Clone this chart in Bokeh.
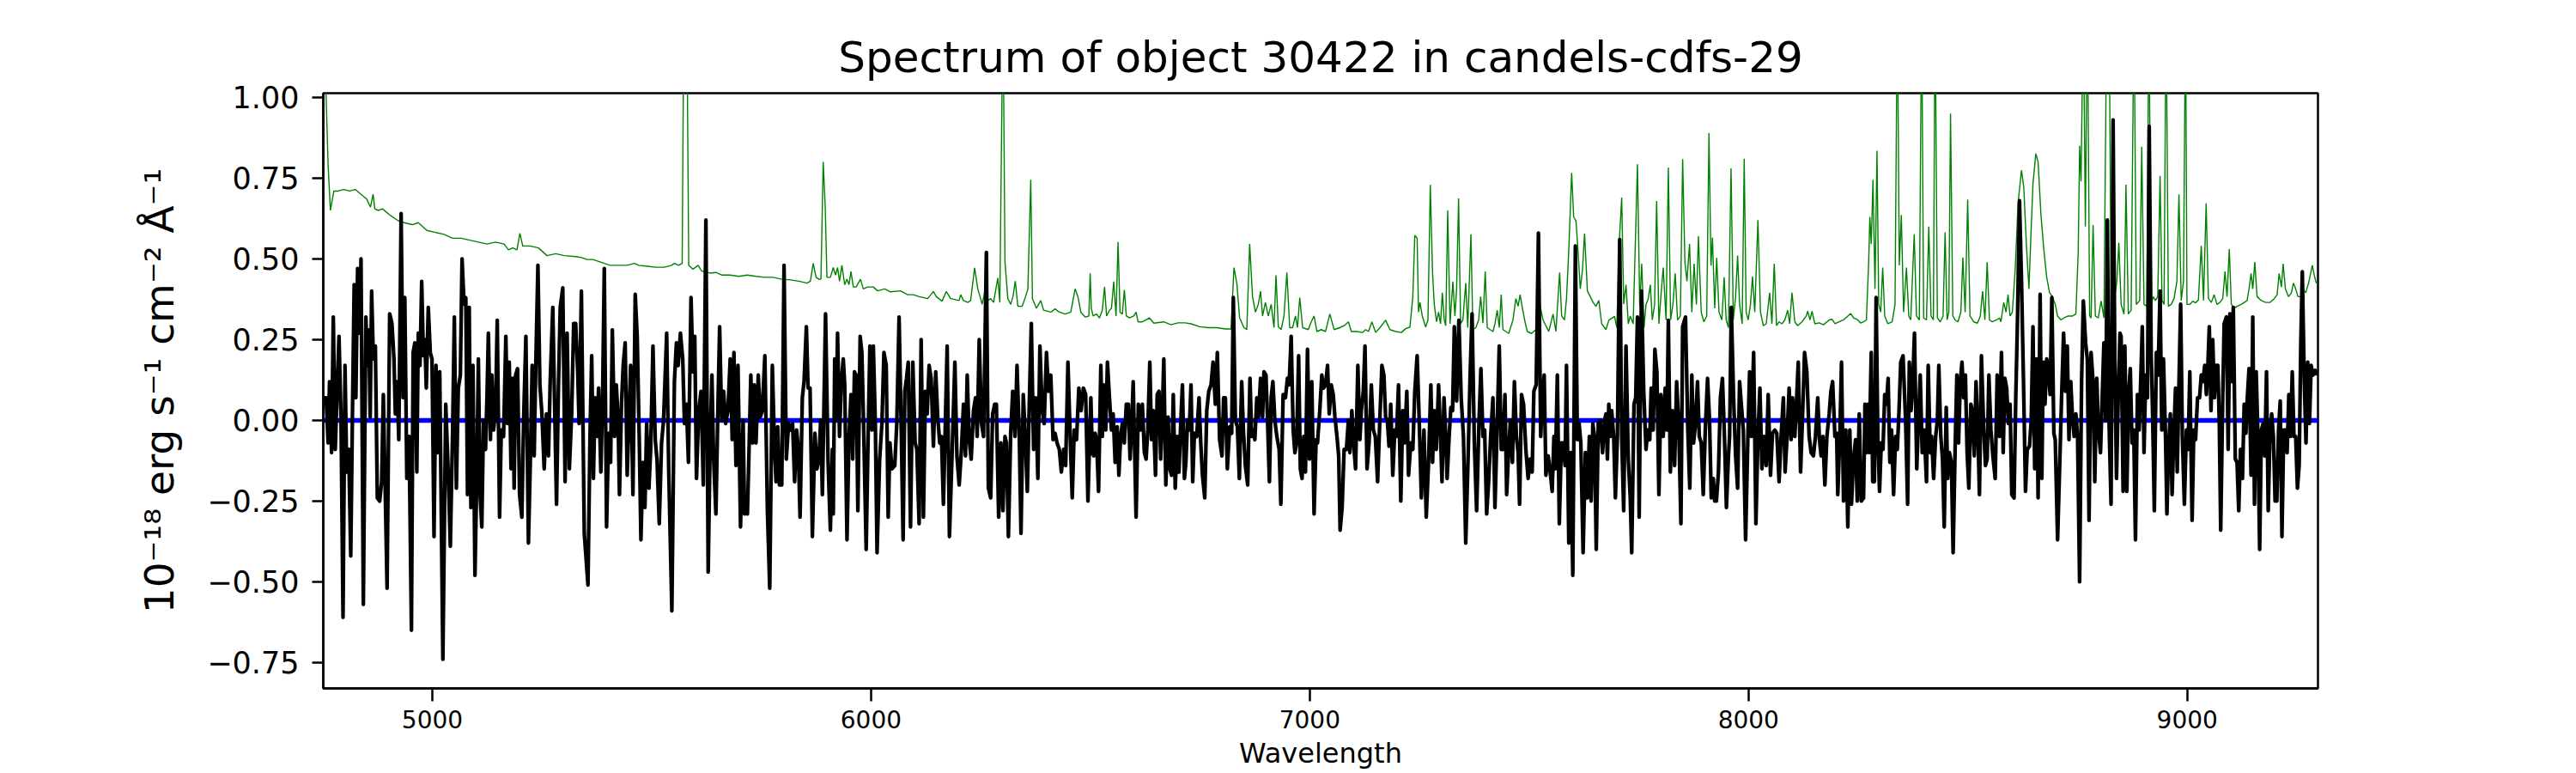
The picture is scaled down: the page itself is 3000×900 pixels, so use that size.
from bokeh.plotting import figure
from bokeh.models import Range1d, FixedTicker, CustomJSTickFormatter, ColumnDataSource
from bokeh.embed import file_html
from bokeh.resources import INLINE

TITLE = "Spectrum of object 30422 in candels-cdfs-29"
X_LABEL = "Wavelength"
Y_LABEL = "10\u207b\u00b9\u2078 erg s\u207b\u00b9 cm\u207b\u00b2 \u00c5\u207b\u00b9"
X_TICKS = [5000, 6000, 7000, 8000, 9000]
Y_TICKS = [-0.75, -0.5, -0.25, 0.0, 0.25, 0.5, 0.75, 1.0]

flux_a = [(4752.7, 0.07), (4758.0, 0.07), (4762.5, -0.07), (4765.8, 0.12), (4770.4, -0.10), (4774.3, 0.32),
          (4778.8, -0.09), (4782.8, 0.08), (4787.3, 0.26), (4791.9, 0.01), (4796.5, -0.61), (4801.0, 0.17),
          (4804.9, -0.16), (4809.5, -0.09), (4814.1, -0.42), (4818.0, 0.02), (4821.9, 0.42), (4825.8, 0.07),
          (4829.7, 0.47), (4834.3, 0.27), (4837.5, 0.50), (4842.8, -0.57), (4848.6, 0.32), (4851.9, 0.17),
          (4855.2, 0.28), (4858.4, 0.01), (4861.7, 0.40), (4865.6, 0.19), (4870.2, 0.23), (4874.7, -0.24),
          (4880.0, -0.25), (4884.5, -0.19), (4888.4, 0.08), (4892.3, -0.19), (4896.9, -0.52), (4902.8, 0.33),
          (4908.0, 0.30), (4912.6, 0.19), (4915.8, 0.02), (4919.7, 0.12), (4923.6, -0.06), (4928.9, 0.64),
          (4933.4, 0.07), (4937.3, 0.38), (4941.9, -0.18), (4947.1, -0.05), (4952.4, -0.65), (4956.3, 0.21),
          (4960.2, 0.24), (4964.7, -0.16), (4968.0, 0.27), (4971.9, 0.17), (4975.8, 0.43), (4979.7, 0.20),
          (4983.0, 0.25), (4986.3, 0.10), (4990.8, 0.35), (4995.4, 0.21), (4999.3, 0.19), (5003.9, -0.36),
          (5008.4, 0.17), (5012.4, -0.10), (5016.9, 0.15), (5024.1, -0.74), (5030.6, 0.05), (5036.5, -0.17),
          (5041.1, -0.39), (5046.3, -0.03), (5050.2, 0.32), (5054.8, -0.21), (5059.3, 0.10), (5063.9, 0.14),
          (5067.8, 0.50), (5072.4, 0.36), (5076.3, 0.38), (5080.2, -0.23), (5084.1, 0.35), (5088.0, -0.27),
          (5092.6, 0.17), (5097.2, -0.48), (5101.7, -0.15), (5105.0, 0.19), (5108.9, -0.23), (5112.8, -0.33),
          (5116.7, 0.00), (5121.3, -0.09), (5124.6, 0.07), (5127.8, 0.27), (5132.4, -0.06), (5135.7, 0.14),
          (5139.6, -0.03), (5144.1, 0.03), (5148.0, 0.31), (5153.3, -0.30), (5157.2, -0.03), (5162.4, -0.05),
          (5167.6, 0.26), (5171.5, -0.01), (5175.4, 0.18), (5179.4, -0.15), (5183.3, 0.13), (5186.5, -0.21),
          (5189.8, 0.14), (5194.3, 0.16), (5198.9, -0.23), (5204.1, -0.30), (5208.1, 0.00), (5213.3, 0.26),
          (5219.1, -0.38), (5223.7, -0.11), (5227.6, 0.17), (5232.2, -0.11), (5235.4, 0.14), (5240.7, 0.48),
          (5245.2, 0.11), (5249.8, 0.02), (5255.0, -0.15), (5260.2, 0.02), (5264.8, -0.11), (5268.7, 0.12),
          (5274.6, 0.35), (5278.5, 0.07), (5283.1, -0.26), (5287.6, 0.11), (5291.6, 0.35), (5297.4, 0.41),
          (5302.6, -0.19), (5307.2, 0.27), (5312.4, -0.15), (5317.6, 0.02), (5322.2, 0.30)]

flux_b = [(5326.8, 0.30), (5331.4, 0.15), (5334.6, -0.01), (5339.8, 0.40), (5346.4, -0.35), (5354.8, -0.51),
          (5359.4, -0.05), (5363.3, 0.20), (5367.2, -0.18), (5371.2, 0.07), (5375.1, -0.05), (5379.0, 0.10),
          (5384.2, -0.16), (5388.1, 0.07), (5392.0, 0.47), (5397.2, -0.33), (5401.8, -0.04), (5406.4, -0.13),
          (5410.3, 0.28), (5415.5, -0.05), (5419.4, 0.11), (5423.3, 0.01), (5426.6, -0.23), (5431.2, 0.05),
          (5435.1, 0.17), (5439.6, 0.24), (5444.2, -0.17), (5448.1, 0.00), (5452.0, 0.17), (5457.3, -0.23),
          (5462.5, 0.39), (5467.0, 0.26), (5471.6, -0.05), (5475.5, -0.37), (5480.1, -0.13), (5484.7, -0.27),
          (5488.6, -0.01), (5493.8, -0.21), (5497.7, -0.09), (5502.9, 0.23), (5508.1, -0.06), (5512.1, -0.12),
          (5517.3, -0.32), (5522.5, -0.07), (5527.1, 0.00), (5534.2, 0.27), (5538.8, -0.15), (5546.0, -0.59),
          (5551.8, 0.12), (5556.4, 0.24), (5560.3, 0.17), (5565.5, 0.27), (5570.8, 0.19), (5574.7, -0.01),
          (5579.2, 0.05), (5583.8, -0.13), (5589.7, 0.38), (5594.2, 0.15), (5598.2, 0.26), (5602.1, -0.18),
          (5607.3, 0.03), (5612.5, 0.09), (5617.7, -0.20), (5623.6, 0.62), (5628.8, -0.47), (5633.4, -0.06),
          (5637.3, 0.14), (5641.2, -0.12), (5646.4, -0.29), (5651.0, 0.04), (5654.9, 0.29), (5659.5, 0.00),
          (5664.0, 0.09), (5668.6, -0.01), (5673.8, 0.03), (5679.0, 0.19), (5683.6, -0.06), (5687.5, 0.21),
          (5692.1, -0.14), (5696.7, 0.17), (5702.5, -0.33), (5708.4, 0.00), (5711.7, -0.29), (5715.6, -0.23),
          (5718.2, -0.29), (5721.4, -0.12), (5726.0, 0.14), (5729.9, -0.07), (5733.8, 0.11), (5737.8, -0.07),
          (5743.0, 0.14), (5747.5, 0.01), (5752.1, 0.03), (5758.0, 0.20), (5763.8, -0.28), (5769.1, -0.52),
          (5775.0, 0.17), (5780.1, -0.09), (5783.4, -0.19), (5787.3, -0.02), (5791.2, -0.20), (5796.5, -0.20),
          (5801.7, 0.48), (5806.9, -0.12), (5812.1, -0.01), (5816.0, -0.03), (5821.2, -0.01), (5825.8, -0.19),
          (5830.4, -0.03), (5834.3, -0.09), (5838.2, -0.30), (5843.4, 0.07), (5847.3, 0.12), (5852.6, 0.29),
          (5856.5, 0.10), (5861.0, 0.10), (5866.3, -0.36), (5872.1, -0.04), (5876.7, -0.15), (5881.3, -0.12),
          (5885.2, 0.00), (5889.1, -0.23), (5896.3, 0.33), (5902.1, -0.13), (5907.3, -0.34), (5911.9, -0.09)]

flux_c = [(5913.9, -0.29), (5917.2, 0.19), (5920.4, 0.00), (5923.7, 0.27), (5928.2, -0.05), (5932.2, 0.12),
          (5936.7, 0.19), (5940.0, 0.11), (5945.2, -0.37), (5949.8, -0.05), (5954.3, 0.08), (5958.3, -0.12),
          (5962.2, 0.15), (5966.1, 0.14), (5970.0, -0.28), (5975.2, 0.26), (5979.1, 0.21), (5983.0, -0.01),
          (5988.9, -0.40), (5993.5, -0.04), (5997.4, 0.23), (6001.9, -0.03), (6005.2, 0.23), (6009.8, -0.01),
          (6013.7, -0.41), (6019.6, -0.12), (6024.8, -0.01), (6029.4, 0.21), (6034.6, 0.17), (6039.1, -0.30),
          (6043.1, -0.07), (6047.6, -0.15), (6054.1, -0.14), (6058.7, -0.01), (6063.9, 0.32), (6068.5, 0.00),
          (6073.1, -0.37), (6077.0, 0.09), (6080.9, 0.13), (6084.8, 0.18), (6090.0, -0.33), (6095.2, 0.18),
          (6100.5, -0.07), (6104.4, -0.09), (6109.6, -0.32), (6114.2, 0.25), (6119.4, -0.30), (6123.9, 0.09),
          (6127.9, 0.02), (6132.4, 0.17), (6137.0, 0.13), (6142.2, -0.08), (6147.4, 0.15), (6152.0, 0.01),
          (6156.6, -0.07), (6160.5, -0.05), (6165.0, -0.26), (6173.5, 0.23), (6178.7, -0.36), (6184.6, -0.11),
          (6191.1, 0.18), (6195.7, -0.11), (6200.9, -0.20), (6206.1, -0.09), (6210.7, 0.05), (6215.3, -0.11),
          (6219.2, 0.14), (6223.7, -0.06), (6228.3, -0.12), (6233.5, 0.03), (6238.1, 0.07), (6242.0, -0.05),
          (6246.6, 0.25), (6251.8, -0.01), (6256.4, -0.05), (6262.9, 0.52), (6267.4, -0.21), (6272.7, -0.24),
          (6277.2, 0.02), (6281.8, 0.05), (6285.7, 0.05), (6290.9, -0.30), (6296.1, -0.07), (6300.7, -0.28),
          (6305.3, -0.05), (6308.5, -0.07), (6313.1, -0.36), (6318.3, -0.04), (6322.9, 0.09), (6328.1, -0.05),
          (6332.7, 0.17), (6337.9, -0.05), (6341.8, -0.35), (6347.0, 0.08), (6350.9, -0.03), (6356.2, -0.22),
          (6360.7, 0.05), (6365.3, 0.30), (6370.5, -0.09), (6375.1, 0.07), (6380.3, -0.18), (6384.9, 0.23),
          (6390.1, 0.03), (6394.6, -0.01), (6399.9, 0.21), (6404.4, 0.09), (6409.7, 0.14), (6414.9, -0.06),
          (6419.4, -0.04), (6424.0, -0.07), (6429.2, -0.09), (6433.8, -0.16), (6439.0, -0.09), (6443.6, -0.14),
          (6448.8, 0.18), (6453.4, -0.03), (6458.6, -0.24), (6463.1, -0.03), (6468.4, -0.06), (6473.6, 0.10),
          (6478.8, 0.03), (6484.0, 0.10), (6489.2, 0.08), (6494.4, -0.25), (6499.7, 0.01)]

flux_d = [(6501.0, 0.07), (6504.3, -0.10), (6507.5, -0.11), (6510.8, -0.04), (6514.0, -0.06), (6518.6, -0.22),
          (6523.8, 0.17), (6527.1, -0.05), (6530.4, 0.11), (6534.9, -0.03), (6538.8, 0.18), (6543.4, 0.07),
          (6548.0, -0.03), (6551.9, 0.02), (6556.4, -0.13), (6561.0, -0.02), (6564.9, -0.17), (6568.8, -0.05),
          (6572.8, -0.01), (6577.3, -0.07), (6581.9, 0.05), (6586.5, 0.05), (6590.4, -0.12), (6594.3, -0.01),
          (6597.5, 0.12), (6604.1, -0.30), (6609.3, 0.05), (6613.2, -0.03), (6618.4, 0.05), (6623.0, -0.10),
          (6626.9, -0.12), (6630.8, -0.03), (6635.4, 0.18), (6639.3, -0.06), (6643.2, 0.03), (6648.4, -0.17),
          (6652.3, 0.08), (6656.3, 0.09), (6660.2, -0.12), (6664.1, 0.03), (6667.3, 0.19), (6671.9, -0.20),
          (6677.1, 0.01), (6681.0, -0.15), (6685.0, -0.17), (6688.9, 0.08), (6693.4, -0.21), (6698.0, -0.05),
          (6701.9, -0.16), (6705.8, -0.01), (6709.7, 0.11), (6714.3, -0.18), (6717.6, -0.13), (6721.5, 0.00),
          (6725.4, -0.03), (6729.3, 0.11), (6733.2, -0.19), (6737.1, -0.04), (6742.4, -0.05), (6747.6, 0.07),
          (6751.5, -0.07), (6755.4, -0.17), (6760.6, -0.24), (6765.2, 0.03), (6769.8, 0.09), (6775.0, 0.11),
          (6779.5, 0.18), (6784.8, 0.05), (6789.3, 0.21), (6794.5, -0.06), (6799.8, -0.11), (6803.7, 0.07),
          (6807.6, 0.07), (6812.1, -0.15), (6817.4, -0.02), (6822.0, -0.04), (6825.8, 0.38), (6830.4, 0.00),
          (6835.0, -0.02), (6839.5, -0.18), (6844.8, 0.12), (6848.7, -0.03), (6853.2, -0.14), (6858.5, -0.20),
          (6863.7, 0.13), (6867.6, -0.05), (6871.5, -0.03), (6874.8, -0.06), (6879.3, 0.07), (6883.2, 0.01),
          (6887.8, 0.13), (6892.4, 0.01), (6895.6, 0.15), (6900.2, 0.14), (6903.5, 0.01), (6908.0, -0.19),
          (6912.0, 0.07), (6915.9, 0.12), (6920.4, 0.00), (6925.0, -0.05), (6930.2, -0.09), (6934.1, -0.26),
          (6939.3, 0.08), (6944.6, 0.07), (6949.1, 0.13), (6953.0, 0.11), (6957.6, 0.26), (6962.2, -0.03),
          (6966.1, -0.10), (6970.0, -0.07), (6974.6, 0.20), (6978.5, -0.15), (6982.4, -0.18), (6986.3, -0.05),
          (6990.2, -0.16), (6994.8, 0.22), (6999.4, -0.12), (7004.6, 0.12), (7009.8, -0.29), (7014.4, -0.06),
          (7017.6, -0.07), (7022.8, 0.03), (7027.4, 0.14), (7031.3, 0.10), (7035.9, 0.11), (7040.5, 0.17),
          (7044.4, 0.02), (7048.9, 0.11), (7053.5, 0.08), (7057.4, 0.01), (7062.0, -0.05), (7065.9, -0.11),
          (7069.2, -0.34), (7073.7, -0.27), (7078.3, -0.09), (7083.5, -0.09), (7088.1, 0.00)]

flux_e = [(7091.4, -0.10), (7095.9, 0.03), (7099.8, -0.07), (7104.4, -0.15), (7109.6, 0.17), (7114.2, -0.06),
          (7117.5, 0.03), (7122.0, 0.09), (7125.9, 0.23), (7130.5, -0.15), (7135.1, -0.07), (7140.3, 0.11),
          (7144.9, -0.03), (7149.4, -0.05), (7154.6, -0.19), (7159.9, 0.01), (7164.4, 0.17), (7169.0, 0.14),
          (7172.9, 0.01), (7176.8, 0.00), (7180.7, -0.08), (7184.6, 0.05), (7189.2, -0.17), (7193.8, -0.03),
          (7197.7, -0.05), (7202.3, 0.11), (7207.5, -0.25), (7212.0, 0.03), (7215.9, -0.07), (7221.2, 0.09),
          (7225.1, -0.17), (7230.3, -0.07), (7234.9, -0.09), (7239.4, 0.09), (7244.7, 0.20), (7249.2, 0.01),
          (7254.4, -0.24), (7260.3, -0.03), (7265.5, -0.30), (7270.7, -0.13), (7276.0, 0.11), (7279.9, -0.13),
          (7283.8, 0.03), (7288.4, -0.09), (7293.6, 0.11), (7298.1, -0.05), (7301.4, -0.19), (7306.0, 0.07),
          (7309.9, -0.05), (7313.1, -0.18), (7317.7, -0.05), (7321.6, 0.04), (7325.5, 0.03), (7329.5, 0.29),
          (7334.7, 0.06), (7339.9, 0.31), (7345.1, 0.07), (7350.3, -0.05), (7355.5, -0.38), (7360.8, -0.12),
          (7365.3, 0.13), (7369.9, 0.33), (7375.1, -0.07), (7380.3, -0.28), (7385.6, -0.01), (7390.1, 0.16),
          (7394.7, -0.05), (7398.6, -0.03), (7403.2, -0.29), (7407.7, -0.19), (7412.3, -0.05), (7417.5, 0.07),
          (7422.1, -0.27), (7427.3, -0.01), (7431.9, 0.23), (7436.4, -0.09), (7440.3, -0.09), (7444.9, 0.08),
          (7448.8, -0.23), (7453.4, -0.09), (7457.3, 0.00), (7461.9, -0.13), (7466.4, 0.12), (7471.0, -0.05),
          (7474.9, -0.10), (7478.2, -0.26), (7482.7, 0.08), (7487.3, 0.05), (7492.5, -0.09), (7497.7, -0.18),
          (7502.3, -0.12), (7506.9, -0.16), (7510.8, 0.09), (7516.0, 0.11), (7521.2, 0.58), (7526.4, -0.05),
          (7530.4, 0.07), (7534.3, 0.14), (7538.2, -0.17), (7543.4, -0.11), (7548.0, -0.16), (7552.5, -0.22),
          (7556.5, -0.05), (7559.7, -0.15), (7564.3, 0.14), (7568.8, -0.32), (7573.4, -0.07), (7577.3, -0.07),
          (7581.9, -0.14), (7585.1, 0.17), (7590.4, -0.38), (7594.9, -0.10), (7599.5, -0.48), (7605.4, 0.54),
          (7609.9, -0.06), (7613.9, -0.01), (7617.8, -0.07), (7623.0, -0.41), (7628.2, -0.10), (7632.8, -0.24),
          (7637.3, -0.05), (7641.3, -0.25), (7645.2, -0.01), (7649.1, -0.05), (7653.0, -0.40), (7657.6, -0.01),
          (7662.1, 0.00), (7667.3, -0.10), (7671.9, 0.00)]

flux_f = [(7675.1, 0.02), (7678.4, -0.12), (7681.6, 0.05), (7684.9, -0.05), (7688.1, 0.03), (7692.7, -0.05),
          (7696.6, -0.24), (7701.2, -0.05), (7706.4, 0.56), (7711.0, -0.05), (7715.5, -0.28), (7720.8, 0.23),
          (7726.0, -0.12), (7730.5, -0.24), (7733.8, -0.41), (7739.0, 0.05), (7742.9, 0.07), (7746.9, 0.32),
          (7750.8, -0.30), (7756.0, 0.40), (7761.2, 0.09), (7766.4, -0.09), (7770.3, -0.03), (7774.9, -0.06),
          (7778.2, 0.10), (7782.7, -0.03), (7786.6, 0.22), (7791.2, 0.15), (7795.8, -0.23), (7800.3, 0.08),
          (7805.6, -0.05), (7810.1, 0.10), (7814.0, -0.03), (7817.3, 0.31), (7821.9, -0.16), (7826.4, 0.03),
          (7831.6, -0.14), (7836.2, 0.12), (7840.8, -0.01), (7846.0, -0.32), (7849.9, 0.29), (7856.4, 0.32),
          (7861.7, -0.03), (7866.2, -0.21), (7870.8, 0.14), (7874.7, -0.07), (7878.6, -0.02), (7883.8, 0.12),
          (7887.8, -0.05), (7892.3, -0.07), (7896.9, -0.23), (7901.5, -0.03), (7906.7, 0.13), (7911.2, 0.00),
          (7915.1, -0.24), (7919.7, -0.18), (7923.0, -0.25), (7926.9, -0.25), (7931.5, -0.16), (7936.0, 0.07),
          (7940.6, 0.13), (7945.2, -0.05), (7949.7, -0.27), (7954.3, -0.11), (7956.9, -0.05), (7960.8, 0.35),
          (7966.0, 0.07), (7970.6, -0.11), (7975.2, -0.21), (7979.7, 0.12), (7983.6, 0.05), (7988.2, -0.03),
          (7993.4, -0.37), (7998.6, -0.05), (8002.5, 0.15), (8006.5, -0.05), (8011.7, 0.21), (8016.9, -0.32),
          (8021.5, -0.05), (8026.0, 0.10), (8030.6, -0.15), (8035.2, -0.05), (8040.4, -0.14), (8044.9, 0.08),
          (8050.2, -0.17), (8054.7, -0.04), (8060.0, -0.03), (8064.5, -0.04), (8069.7, -0.19), (8074.3, -0.05),
          (8079.5, 0.07), (8083.4, -0.16), (8088.0, -0.05), (8092.6, 0.10), (8097.1, -0.06), (8100.4, 0.07),
          (8105.6, -0.05), (8109.5, 0.06), (8113.4, 0.18), (8118.7, -0.16), (8122.6, -0.01), (8127.8, 0.21),
          (8133.0, 0.15), (8138.2, -0.05), (8142.8, -0.10), (8148.0, -0.11), (8152.6, -0.05), (8157.8, 0.07),
          (8161.7, -0.06), (8165.6, -0.11), (8169.5, -0.05), (8174.1, -0.20), (8178.7, -0.05), (8183.9, 0.02),
          (8187.8, 0.09), (8191.7, 0.12), (8197.0, -0.05), (8200.9, -0.04), (8203.5, -0.23), (8208.1, -0.05),
          (8212.0, 0.18), (8216.6, -0.25), (8221.8, -0.03), (8226.4, -0.33), (8230.9, -0.03), (8234.8, -0.26),
          (8239.3, -0.12), (8244.0, -0.06), (8247.9, -0.25), (8252.4, 0.02), (8257.0, -0.25)]

flux_g = [(8262.2, -0.24), (8265.5, 0.05), (8268.7, -0.10), (8272.0, 0.05), (8275.2, -0.10), (8279.8, 0.21),
          (8283.1, -0.19), (8287.0, -0.19), (8290.9, 0.38), (8294.8, -0.05), (8298.7, -0.22), (8302.6, -0.07),
          (8306.6, -0.09), (8310.5, 0.08), (8314.4, 0.05), (8318.3, 0.13), (8322.2, -0.13), (8326.1, -0.03),
          (8330.7, -0.23), (8335.3, -0.05), (8339.2, -0.09), (8343.1, 0.03), (8347.0, 0.18), (8352.2, 0.20),
          (8358.1, 0.00), (8362.7, -0.26), (8366.6, 0.18), (8370.5, 0.03), (8374.4, 0.12), (8378.3, 0.27),
          (8383.5, -0.15), (8387.4, 0.00), (8391.4, 0.14), (8395.9, -0.10), (8400.5, -0.03), (8405.7, -0.19),
          (8409.6, 0.17), (8414.2, -0.10), (8417.4, -0.05), (8422.0, -0.18), (8426.6, -0.05), (8430.5, 0.00),
          (8433.8, 0.17), (8438.3, -0.05), (8442.2, -0.12), (8446.1, -0.33), (8450.7, 0.04), (8454.0, -0.18),
          (8457.9, -0.10), (8462.5, -0.13), (8466.4, -0.41), (8470.9, -0.09), (8474.9, 0.14), (8478.8, -0.07),
          (8482.7, 0.12), (8486.6, 0.18), (8490.5, 0.07), (8494.4, 0.14), (8498.3, -0.10), (8502.2, -0.21),
          (8506.8, 0.05), (8510.1, 0.03), (8514.6, -0.11), (8518.6, 0.12), (8523.1, -0.05), (8526.4, -0.23),
          (8530.9, 0.20), (8536.2, -0.03), (8540.1, -0.14), (8544.0, -0.12), (8547.9, 0.14), (8552.5, -0.03),
          (8557.0, -0.11), (8562.3, -0.18), (8566.8, 0.14), (8572.0, -0.05), (8576.6, 0.21), (8580.5, -0.10),
          (8584.4, 0.13), (8588.4, 0.10), (8592.3, -0.01), (8596.2, 0.05), (8600.1, -0.23), (8605.3, -0.24),
          (8609.2, 0.07), (8613.1, 0.31), (8617.7, 0.68), (8622.3, 0.43), (8626.8, 0.12), (8631.4, -0.22),
          (8635.3, -0.09), (8640.5, -0.08), (8644.4, 0.00), (8648.4, 0.29), (8652.3, -0.15), (8656.8, 0.19),
          (8660.1, -0.24), (8664.7, 0.39), (8668.6, -0.18), (8671.8, 0.18), (8675.8, 0.05), (8679.7, 0.19),
          (8683.6, 0.15), (8687.5, 0.08), (8691.4, 0.38), (8696.0, -0.04), (8699.2, -0.06), (8704.5, -0.37),
          (8709.7, -0.12), (8713.6, 0.07), (8718.2, 0.27), (8722.7, 0.09), (8726.6, 0.23), (8730.5, -0.06),
          (8734.5, 0.12), (8738.4, 0.01), (8742.3, -0.05), (8746.2, 0.02), (8750.1, -0.05), (8754.7, -0.50),
          (8759.2, 0.12), (8763.2, 0.37), (8768.4, 0.24), (8772.3, 0.19), (8776.2, -0.31), (8780.8, 0.21),
          (8785.4, 0.12), (8789.3, -0.19), (8793.8, 0.13), (8797.7, -0.03), (8802.3, -0.10), (8806.2, 0.07),
          (8810.1, 0.24), (8814.1, 0.00), (8818.0, 0.62), (8821.9, -0.01), (8826.4, -0.26), (8831.0, 0.93),
          (8834.9, 0.19), (8838.8, -0.18), (8842.7, 0.07), (8846.7, 0.27)]

flux_h = [(8849.3, 0.26), (8853.9, -0.22), (8857.8, 0.23), (8862.4, -0.22), (8866.3, 0.08), (8870.2, 0.16),
          (8874.1, -0.07), (8878.1, -0.03), (8882.0, -0.37), (8886.5, 0.08), (8890.4, -0.03), (8893.7, 0.11),
          (8897.6, 0.29), (8901.5, -0.10), (8905.4, 0.14), (8909.4, 0.07), (8913.3, 0.91), (8917.8, 0.21),
          (8921.1, 0.02), (8925.0, -0.28), (8929.6, 0.21), (8933.5, 0.14), (8938.1, 0.40), (8942.0, -0.03),
          (8945.9, 0.19), (8950.5, -0.05), (8953.7, -0.29), (8957.6, -0.08), (8961.5, 0.02), (8965.5, -0.23),
          (8969.4, -0.05), (8973.3, 0.10), (8977.2, -0.16), (8981.1, 0.11), (8985.0, 0.36), (8988.9, -0.05),
          (8993.5, -0.26), (8998.1, -0.03), (9002.0, -0.09), (9005.9, 0.15), (9011.1, -0.31), (9015.0, -0.03),
          (9019.0, -0.06), (9023.5, 0.07), (9028.1, 0.07), (9032.0, 0.14), (9035.9, 0.12), (9039.8, 0.17),
          (9043.7, 0.08), (9047.0, 0.17), (9050.3, 0.29), (9054.2, 0.03), (9058.1, 0.25), (9062.0, 0.07),
          (9065.9, 0.17), (9069.8, 0.17), (9073.1, -0.01), (9076.3, -0.34), (9080.9, 0.07), (9084.2, 0.30),
          (9089.4, 0.32), (9093.3, -0.09), (9097.2, 0.33), (9101.1, 0.12), (9105.0, 0.35), (9109.6, -0.12),
          (9113.5, -0.13), (9117.4, -0.28), (9121.4, -0.09), (9125.9, -0.18), (9129.8, 0.05), (9133.7, -0.04),
          (9137.0, 0.07), (9140.9, 0.16), (9145.5, -0.17), (9149.4, 0.32), (9153.3, -0.26), (9157.2, 0.15),
          (9161.2, -0.05), (9165.1, -0.40), (9169.0, -0.03), (9172.9, -0.01), (9176.8, -0.11), (9180.7, 0.15),
          (9184.6, -0.28), (9188.5, -0.05), (9192.5, 0.02), (9196.4, -0.05), (9200.3, -0.25), (9204.2, -0.25),
          (9208.1, -0.03), (9212.0, 0.06), (9215.9, -0.36), (9219.9, -0.03), (9223.8, -0.03), (9227.7, -0.10),
          (9231.6, 0.08), (9235.5, -0.05), (9239.4, 0.15), (9243.3, -0.05), (9247.2, -0.05), (9251.2, -0.21),
          (9255.1, -0.14), (9259.0, 0.25), (9262.3, 0.46), (9266.8, 0.12), (9270.7, -0.07), (9274.7, 0.18),
          (9278.6, -0.01), (9282.5, 0.17), (9286.4, 0.14), (9291.6, 0.155), (9296.2, 0.14)]

# noise / sky spectrum (green), values above the frame are sky-line spikes
noise_a = [(4751.4, 1.30), (4758.0, 1.00), (4762.5, 0.79), (4767.7, 0.65), (4775.6, 0.71), (4785.4, 0.71),
           (4798.4, 0.715), (4811.5, 0.71), (4824.5, 0.715), (4837.5, 0.70), (4850.6, 0.685), (4859.1, 0.66),
           (4865.0, 0.70), (4868.9, 0.655), (4876.7, 0.65), (4886.5, 0.655), (4902.8, 0.636), (4922.3, 0.618),
           (4935.4, 0.612), (4954.9, 0.606), (4968.0, 0.612), (4987.6, 0.588), (5007.1, 0.582), (5026.7, 0.576),
           (5046.3, 0.564), (5065.9, 0.564), (5085.4, 0.558), (5105.0, 0.552), (5124.6, 0.546), (5144.1, 0.552),
           (5163.7, 0.546), (5173.5, 0.528), (5183.3, 0.534), (5193.0, 0.528), (5199.6, 0.579), (5206.1, 0.54),
           (5222.4, 0.54), (5242.0, 0.534), (5261.5, 0.51), (5281.1, 0.516), (5300.7, 0.51)]

noise_b = [(5326.8, 0.507), (5339.8, 0.504), (5352.9, 0.498), (5365.9, 0.498), (5379.0, 0.492), (5392.0, 0.486),
           (5405.1, 0.48), (5424.6, 0.48), (5444.2, 0.48), (5460.5, 0.486), (5470.3, 0.48), (5489.9, 0.477),
           (5509.4, 0.474), (5529.0, 0.474), (5545.3, 0.48), (5551.8, 0.486), (5561.6, 0.48), (5569.5, 0.486),
           (5573.4, 1.30), (5579.9, 1.30), (5584.5, 0.48), (5594.2, 0.468), (5606.0, 0.48), (5613.8, 0.462),
           (5633.4, 0.456), (5646.4, 0.458), (5659.5, 0.45), (5679.0, 0.45), (5698.6, 0.446), (5718.2, 0.45),
           (5737.8, 0.446), (5757.3, 0.443), (5776.9, 0.443), (5796.5, 0.437), (5816.0, 0.435), (5835.6, 0.431),
           (5853.9, 0.425), (5861.7, 0.431), (5868.2, 0.486), (5874.7, 0.443), (5881.3, 0.437), (5885.8, 0.437),
           (5891.0, 0.80), (5895.6, 0.66), (5899.5, 0.443), (5907.3, 0.443)]

noise_c = [(5913.9, 0.473), (5919.1, 0.45), (5923.7, 0.473), (5928.2, 0.431), (5933.5, 0.48), (5940.0, 0.42),
           (5945.2, 0.437), (5949.8, 0.42), (5954.3, 0.461), (5959.6, 0.413), (5966.1, 0.413), (5975.9, 0.437),
           (5982.4, 0.407), (5992.2, 0.413), (6005.2, 0.413), (6015.0, 0.401), (6031.3, 0.407), (6044.4, 0.398),
           (6067.2, 0.401), (6083.5, 0.389), (6096.5, 0.389), (6109.6, 0.383), (6129.2, 0.377), (6142.2, 0.399),
           (6148.7, 0.383), (6161.8, 0.369), (6171.6, 0.399), (6181.3, 0.377), (6200.9, 0.371), (6204.2, 0.389),
           (6210.7, 0.371), (6220.5, 0.365), (6227.0, 0.371), (6236.1, 0.472), (6243.3, 0.407), (6249.8, 0.377),
           (6253.1, 0.359), (6259.6, 0.40), (6266.1, 0.371), (6272.7, 0.377), (6279.2, 0.365), (6289.0, 0.441),
           (6293.5, 0.365), (6300.7, 1.30), (6305.3, 0.49), (6311.8, 0.377), (6318.3, 0.359), (6323.5, 0.383),
           (6328.8, 0.431), (6334.6, 0.353), (6344.4, 0.353), (6352.2, 0.383), (6357.5, 0.407), (6364.0, 0.745),
           (6367.9, 0.377), (6377.0, 0.347), (6386.8, 0.371), (6393.3, 0.341), (6409.7, 0.335), (6419.4, 0.345),
           (6429.2, 0.335), (6442.3, 0.329), (6455.3, 0.335), (6465.1, 0.407), (6471.6, 0.383), (6478.2, 0.335),
           (6487.9, 0.32), (6496.4, 0.323), (6499.5, 0.455)]

noise_d = [(6502.0, 0.347), (6506.2, 0.323), (6514.0, 0.329), (6520.6, 0.317), (6527.1, 0.341), (6532.3, 0.413),
           (6536.9, 0.323), (6543.4, 0.341), (6548.0, 0.347), (6553.2, 0.43), (6558.4, 0.323), (6563.0, 0.552),
           (6567.5, 0.335), (6572.8, 0.329), (6577.3, 0.404), (6581.9, 0.323), (6589.1, 0.317), (6598.8, 0.323),
           (6604.1, 0.335), (6608.6, 0.305), (6618.4, 0.305), (6634.7, 0.317), (6644.5, 0.301), (6667.3, 0.305),
           (6683.6, 0.296), (6700.0, 0.302), (6716.3, 0.302), (6729.3, 0.299), (6748.9, 0.29), (6768.4, 0.287),
           (6788.0, 0.287), (6807.6, 0.283), (6820.6, 0.283), (6827.2, 0.473), (6833.7, 0.425), (6840.2, 0.317),
           (6850.0, 0.287), (6856.5, 0.281), (6863.0, 0.546), (6869.5, 0.383), (6876.1, 0.335), (6882.6, 0.359),
           (6887.8, 0.40), (6892.4, 0.323), (6898.9, 0.365), (6905.4, 0.323), (6912.0, 0.359), (6918.5, 0.287),
           (6923.0, 0.449), (6928.3, 0.29), (6934.8, 0.281), (6941.3, 0.323), (6947.8, 0.458), (6954.3, 0.287),
           (6960.9, 0.287), (6967.4, 0.323), (6972.0, 0.287), (6977.2, 0.38), (6983.7, 0.287), (6996.7, 0.281),
           (7003.3, 0.305), (7009.8, 0.323), (7016.3, 0.275), (7026.1, 0.281), (7035.9, 0.275), (7045.7, 0.329),
           (7055.5, 0.281), (7068.5, 0.287), (7078.3, 0.293), (7088.1, 0.305)]

noise_e = [(7094.6, 0.275), (7107.7, 0.275), (7120.7, 0.272), (7127.2, 0.281), (7133.8, 0.275), (7141.6, 0.305),
           (7150.1, 0.272), (7159.9, 0.287), (7172.9, 0.31), (7182.7, 0.281), (7195.7, 0.275), (7208.8, 0.272),
           (7218.6, 0.284), (7228.3, 0.289), (7234.9, 0.383), (7239.4, 0.573), (7244.7, 0.564), (7247.9, 0.335),
           (7251.2, 0.365), (7256.4, 0.323), (7264.2, 0.289), (7269.4, 0.311), (7274.7, 0.729), (7279.9, 0.455),
           (7283.8, 0.359), (7289.0, 0.305), (7293.6, 0.335), (7298.1, 0.299), (7302.1, 0.395), (7306.6, 0.311),
           (7309.9, 0.293), (7314.4, 0.65), (7319.7, 0.299), (7326.2, 0.43), (7330.8, 0.323), (7334.7, 0.407),
           (7339.2, 0.687), (7343.8, 0.299), (7349.0, 0.311), (7355.5, 0.425), (7360.1, 0.287), (7367.3, 0.576),
           (7371.8, 0.281), (7378.4, 0.287), (7384.9, 0.311), (7389.5, 0.383), (7394.7, 0.301), (7399.9, 0.461),
           (7404.5, 0.287), (7411.0, 0.281), (7417.5, 0.275), (7422.1, 0.299), (7427.3, 0.341), (7431.9, 0.287),
           (7436.4, 0.389), (7440.3, 0.281), (7453.4, 0.269), (7463.2, 0.311), (7469.7, 0.377), (7474.9, 0.353),
           (7479.5, 0.389), (7484.7, 0.347), (7490.6, 0.305), (7495.8, 0.275), (7505.6, 0.269), (7515.4, 0.281),
           (7525.1, 0.353), (7531.7, 0.311), (7538.2, 0.293), (7544.7, 0.275), (7554.5, 0.329), (7561.0, 0.275),
           (7569.5, 0.458), (7574.1, 0.323), (7580.6, 0.311), (7585.2, 0.377), (7590.4, 0.528), (7596.9, 0.766),
           (7601.5, 0.63), (7606.7, 0.618), (7611.3, 0.528), (7616.5, 0.407), (7621.7, 0.467), (7626.3, 0.578),
           (7632.8, 0.401), (7639.3, 0.383), (7645.8, 0.365), (7652.3, 0.353), (7658.9, 0.371), (7665.4, 0.299),
           (7675.1, 0.281)]

noise_f = [(7681.6, 0.31), (7688.1, 0.316), (7694.7, 0.322), (7699.9, 0.287), (7704.5, 0.528), (7711.0, 0.69),
           (7715.5, 0.36), (7720.8, 0.42), (7726.0, 0.299), (7730.5, 0.323), (7737.1, 0.299), (7746.9, 0.793),
           (7752.1, 0.353), (7756.6, 0.485), (7761.9, 0.287), (7766.4, 0.359), (7771.6, 0.377), (7776.2, 0.42),
           (7780.8, 0.311), (7786.0, 0.359), (7790.6, 0.679), (7795.8, 0.299), (7800.3, 0.383), (7805.6, 0.473),
           (7812.1, 0.311), (7817.3, 0.783), (7822.5, 0.311), (7827.7, 0.359), (7833.0, 0.455), (7838.2, 0.311),
           (7844.7, 0.323), (7849.9, 0.809), (7855.1, 0.49), (7859.7, 0.431), (7865.6, 0.546), (7870.8, 0.335),
           (7876.0, 0.485), (7881.2, 0.359), (7885.8, 0.57), (7892.3, 0.335), (7898.2, 0.305), (7904.7, 0.323),
           (7909.9, 0.889), (7914.5, 0.479), (7917.8, 0.566), (7923.0, 0.347), (7927.5, 0.503), (7932.8, 0.335),
           (7939.3, 0.311), (7944.5, 0.443), (7949.1, 0.311), (7954.3, 0.287), (7960.2, 0.78), (7965.4, 0.311),
           (7970.6, 0.383), (7975.2, 0.51), (7979.7, 0.359), (7985.6, 0.299), (7990.2, 0.81), (7994.7, 0.335),
           (7999.3, 0.311), (8004.5, 0.359), (8009.1, 0.446), (8014.3, 0.335), (8021.5, 0.62), (8027.3, 0.335),
           (8033.9, 0.293), (8040.4, 0.299), (8048.2, 0.395), (8053.4, 0.299), (8058.7, 0.485), (8063.9, 0.293),
           (8069.7, 0.305), (8076.3, 0.299), (8082.8, 0.311), (8089.3, 0.341), (8093.9, 0.299), (8099.1, 0.395),
           (8105.6, 0.305), (8112.1, 0.293), (8121.9, 0.305), (8131.7, 0.323), (8135.0, 0.338), (8140.2, 0.311),
           (8144.8, 0.338), (8151.3, 0.299), (8161.1, 0.302), (8170.9, 0.296), (8183.9, 0.311), (8190.4, 0.313),
           (8197.0, 0.299), (8206.7, 0.305), (8216.5, 0.311), (8226.3, 0.323), (8232.8, 0.331), (8239.3, 0.317),
           (8249.2, 0.311), (8255.7, 0.301), (8262.2, 0.305)]

noise_g = [(8268.7, 0.311), (8273.9, 0.49), (8276.6, 0.63), (8279.8, 0.546), (8283.7, 0.745), (8288.3, 0.407),
           (8292.9, 0.835), (8296.8, 0.359), (8301.3, 0.335), (8305.9, 0.473), (8310.5, 0.323), (8317.6, 0.299),
           (8327.4, 0.305), (8334.0, 0.359), (8339.2, 1.30), (8343.7, 0.48), (8348.3, 0.636), (8353.5, 0.335),
           (8360.0, 0.473), (8365.3, 0.323), (8369.8, 0.311), (8377.7, 0.576), (8382.9, 0.323), (8389.4, 0.311),
           (8394.6, 1.30), (8399.2, 0.317), (8405.7, 0.311), (8410.9, 0.60), (8416.1, 0.323), (8421.4, 0.311),
           (8425.3, 1.30), (8430.5, 0.317), (8437.0, 0.305), (8443.5, 0.323), (8448.1, 0.582), (8452.7, 0.311),
           (8456.6, 0.335), (8460.5, 0.95), (8465.7, 0.323), (8470.9, 0.311), (8477.5, 0.305), (8484.0, 0.335),
           (8488.6, 0.504), (8493.8, 0.335), (8499.6, 0.684), (8504.9, 0.323), (8513.3, 0.305), (8521.8, 0.301),
           (8528.3, 0.323), (8533.6, 0.40), (8538.8, 0.311), (8544.0, 0.49), (8549.2, 0.311), (8555.7, 0.305),
           (8565.5, 0.311), (8572.0, 0.317), (8575.3, 0.305), (8581.8, 0.365), (8587.0, 0.335), (8591.6, 0.389),
           (8596.2, 0.323), (8601.4, 0.335), (8607.9, 0.467), (8614.4, 0.672), (8622.3, 0.775), (8627.5, 0.72),
           (8634.0, 0.528), (8639.2, 0.407), (8643.8, 0.576), (8648.4, 0.732), (8654.9, 0.826), (8660.1, 0.80),
           (8666.6, 0.636), (8673.2, 0.528), (8679.7, 0.443), (8686.2, 0.395), (8692.7, 0.383), (8699.2, 0.359),
           (8704.5, 0.323), (8712.3, 0.311), (8718.8, 0.317), (8728.6, 0.323), (8738.4, 0.323), (8746.2, 0.329)]

noise_h = [(8751.5, 0.52), (8754.8, 0.85), (8758.0, 0.74), (8763.2, 1.30), (8767.8, 0.60), (8772.4, 1.30),
           (8777.6, 0.323), (8780.9, 0.317), (8785.4, 0.605), (8790.6, 0.323), (8797.2, 0.317), (8803.7, 0.37),
           (8810.2, 0.317), (8816.7, 1.30), (8822.0, 1.30), (8826.5, 0.359), (8833.0, 0.365), (8839.6, 0.431),
           (8844.1, 0.55), (8849.3, 0.359), (8855.9, 0.329), (8860.4, 0.73), (8865.7, 0.329), (8872.2, 0.341),
           (8878.7, 1.30), (8883.9, 0.359), (8891.7, 0.371), (8896.3, 0.847), (8901.5, 0.359), (8908.1, 0.353),
           (8912.6, 1.30), (8917.8, 0.359), (8922.4, 0.383), (8927.6, 0.371), (8932.8, 0.383), (8938.1, 0.757),
           (8942.6, 0.371), (8947.2, 0.359), (8951.8, 1.30), (8957.0, 0.353), (8963.5, 0.359), (8970.0, 0.377),
           (8976.5, 0.431), (8981.1, 0.70), (8986.3, 0.371), (8991.5, 0.431), (8996.1, 1.30), (8999.4, 0.359),
           (9005.9, 0.359), (9012.4, 0.369), (9019.0, 0.364), (9025.5, 0.373), (9032.0, 0.54), (9037.2, 0.371),
           (9043.1, 0.672), (9048.3, 0.377), (9054.8, 0.365), (9061.3, 0.389), (9067.9, 0.359), (9074.4, 0.365),
           (9080.9, 0.377), (9086.1, 0.461), (9090.7, 0.383), (9095.9, 0.53), (9100.5, 0.359), (9107.0, 0.347),
           (9113.5, 0.353), (9123.3, 0.359), (9136.4, 0.371), (9140.9, 0.407), (9145.5, 0.455), (9149.4, 0.407),
           (9154.0, 0.49), (9159.2, 0.383), (9169.0, 0.371), (9178.8, 0.365), (9188.5, 0.365), (9198.3, 0.377),
           (9204.9, 0.389), (9209.4, 0.455), (9214.6, 0.413), (9218.6, 0.485), (9223.8, 0.407), (9230.9, 0.383),
           (9237.5, 0.395), (9242.0, 0.425), (9247.2, 0.407), (9252.5, 0.383), (9259.0, 0.383), (9263.5, 0.407),
           (9270.1, 0.395), (9276.6, 0.425), (9281.2, 0.455), (9285.1, 0.48), (9289.6, 0.449), (9294.2, 0.425),
           (9298.1, 0.425)]

# model (blue): flat at zero over the full range
model_wave = [4751.5, 9298.0]
model_flux = [0.0, 0.0]

X_MIN, X_MAX = 4751.5, 9298.0
Y_MIN, Y_MAX = -0.83, 1.013

flux_pts = flux_a + flux_b + flux_c + flux_d + flux_e + flux_f + flux_g + flux_h
noise_pts = noise_a + noise_b + noise_c + noise_d + noise_e + noise_f + noise_g + noise_h

flux_src = ColumnDataSource(dict(w=[a for a, b in flux_pts], f=[b for a, b in flux_pts]))
noise_src = ColumnDataSource(dict(w=[a for a, b in noise_pts], f=[b for a, b in noise_pts]))
model_src = ColumnDataSource(dict(w=model_wave, f=model_flux))

FONT = "DejaVu Sans"

p = figure(width=2992, height=900, output_backend="svg", toolbar_location=None,
           x_range=Range1d(X_MIN, X_MAX), y_range=Range1d(Y_MIN, Y_MAX),
           min_border_left=376, min_border_right=293, min_border_top=108, min_border_bottom=99,
           title=TITLE)

p.title.text_font = FONT
p.title.text_font_size = "50px"
p.title.text_font_style = "normal"
p.title.text_color = "black"
p.title.align = "center"
p.title.standoff = 26

p.background_fill_color = "white"
p.border_fill_color = "white"
p.outline_line_color = "black"
p.outline_line_width = 2.5
p.outline_line_alpha = 1.0
p.xgrid.visible = False
p.ygrid.visible = False

p.line("w", "f", source=noise_src, line_color="#008000", line_width=1.4)
p.line("w", "f", source=model_src, line_color="#0000ff", line_width=5.5)
p.line("w", "f", source=flux_src, line_color="black", line_width=4.3, line_join="round")

xa = p.xaxis[0]
xa.ticker = FixedTicker(ticks=X_TICKS)
xa.formatter = CustomJSTickFormatter(code="return tick.toFixed(0);")
xa.major_label_text_font = FONT
xa.major_label_text_font_size = "28px"
xa.major_label_text_color = "black"
xa.major_tick_out = 15
xa.major_tick_in = 0
xa.minor_tick_out = 0
xa.minor_tick_in = 0
xa.major_tick_line_width = 2.5
xa.major_tick_line_color = "black"
xa.axis_line_color = "black"
xa.axis_line_width = 2.5
xa.major_label_standoff = 10
xa.axis_label = X_LABEL
xa.axis_label_text_font = FONT
xa.axis_label_text_font_size = "32px"
xa.axis_label_text_font_style = "normal"
xa.axis_label_text_color = "black"
xa.axis_label_standoff = 7

ya = p.yaxis[0]
ya.ticker = FixedTicker(ticks=Y_TICKS)
ya.formatter = CustomJSTickFormatter(code="var s = Math.abs(tick).toFixed(2); return (tick < 0 ? '\u2212' : '') + s;")
ya.major_label_text_font = FONT
ya.major_label_text_font_size = "35px"
ya.major_label_text_color = "black"
ya.major_tick_out = 13
ya.major_tick_in = 0
ya.minor_tick_out = 0
ya.minor_tick_in = 0
ya.major_tick_line_width = 2.5
ya.major_tick_line_color = "black"
ya.axis_line_color = "black"
ya.axis_line_width = 2.5
ya.major_label_standoff = 15
ya.axis_label = Y_LABEL
ya.axis_label_text_font = FONT
ya.axis_label_text_font_size = "47px"
ya.axis_label_text_font_style = "normal"
ya.axis_label_text_color = "black"
ya.axis_label_standoff = 25

with open("out.html", "w", encoding="utf-8") as fh:
    fh.write(file_html(p, INLINE))
